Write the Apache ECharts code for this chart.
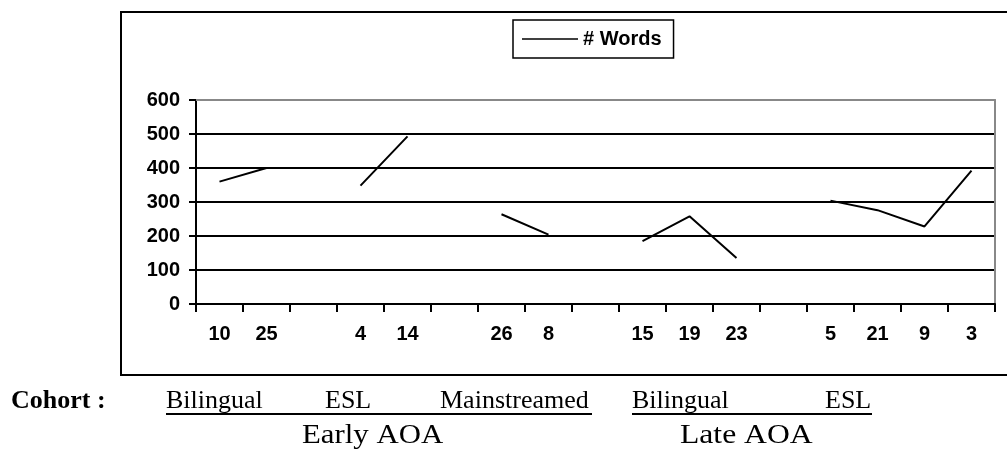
<!DOCTYPE html>
<html>
<head>
<meta charset="utf-8">
<script src="https://cdn.jsdelivr.net/npm/echarts@6/dist/echarts.min.js"></script>
<style>
  html, body { margin: 0; padding: 0; background: #fff; }
  #chart { width: 1007px; height: 449px; }
</style>
</head>
<body>
<div id="chart"></div>
<script>
// subject ids along x (blank slots separate the cohorts)
const categories = ['10', '25', '', '4', '14', '', '26', '8', '', '15', '19', '23', '', '5', '21', '9', '3']
// number of words, null = gap between cohorts
const words = [360, 400, null, 348, 493, null, 264, 204, null, 185, 258, 135, null, 304, 276, 228, 392]
const yTicks = { min: 0, max: 600, interval: 100 }
const seriesName = '# Words'

let myChart = echarts.init(document.getElementById('chart'))

const serif = '"Liberation Serif", "Times New Roman", serif'
const sans = '"Liberation Sans", Arial, sans-serif'

// cohort captions under the chart
const captionText = (text, x, y, size, bold, scaleX) => ({
  type: 'text',
  x: x,
  y: y,
  scaleX: scaleX || 1,
  style: {
    text: text,
    fontFamily: serif,
    fontSize: size,
    fontWeight: bold ? 'bold' : 'normal',
    fill: '#000',
    verticalAlign: 'middle'
  }
})
const underline = (x1, x2, y) => ({
  type: 'line',
  shape: { x1: x1, y1: y, x2: x2, y2: y },
  style: { stroke: '#000', lineWidth: 2 }
})

myChart.setOption({
  animation: false,
  backgroundColor: '#fff',
  grid: { left: 196, right: 12, top: 100, bottom: 145 },
  legend: {
    left: 513,
    top: 20,
    padding: [9, 12, 9, 9],
    borderColor: '#000',
    borderWidth: 1.5,
    itemWidth: 56,
    itemHeight: 16,
    itemGap: 5,
    selectedMode: false,
    itemStyle: { color: '#000', borderWidth: 0 },
    lineStyle: { color: '#000', width: 2 },
    textStyle: { color: '#000', fontSize: 20, fontWeight: 'bold', fontFamily: sans },
    data: [{ name: seriesName, icon: 'path://M0,9 L100,9 L100,12 L0,12 Z' }]
  },
  xAxis: [
    {
      type: 'category',
      data: categories,
      boundaryGap: true,
      axisLine: { onZero: false, lineStyle: { color: '#000', width: 2 } },
      axisTick: { show: true, interval: 0, length: 8, lineStyle: { color: '#000', width: 2 } },
      axisLabel: {
        interval: 0,
        margin: 20,
        color: '#000',
        fontSize: 20,
        fontWeight: 'bold',
        fontFamily: sans
      },
      splitLine: { show: false }
    },
    {
      // gray frame on top of the plot area
      type: 'category',
      position: 'top',
      data: categories,
      axisLine: { onZero: false, lineStyle: { color: '#888', width: 2 } },
      axisTick: { show: false },
      axisLabel: { show: false }
    }
  ],
  yAxis: [
    {
      type: 'value',
      min: yTicks.min,
      max: yTicks.max,
      interval: yTicks.interval,
      axisLine: { show: true, onZero: false, lineStyle: { color: '#000', width: 2 } },
      axisTick: { show: true, length: 7, lineStyle: { color: '#000', width: 2 } },
      axisLabel: {
        margin: 16,
        color: '#000',
        fontSize: 20,
        fontWeight: 'bold',
        fontFamily: sans
      },
      splitLine: { show: true, showMaxLine: false, lineStyle: { color: '#000', width: 2 } }
    },
    {
      // gray frame on the right
      type: 'value',
      position: 'right',
      min: yTicks.min,
      max: yTicks.max,
      interval: yTicks.interval,
      axisLine: { show: true, onZero: false, lineStyle: { color: '#888', width: 2 } },
      axisTick: { show: false },
      axisLabel: { show: false },
      splitLine: { show: false }
    }
  ],
  series: [
    {
      name: seriesName,
      type: 'line',
      data: words,
      connectNulls: false,
      symbol: 'none',
      z: 5,
      lineStyle: { color: '#000', width: 2 },
      itemStyle: { color: '#000' }
    }
  ],
  graphic: [
    {
      type: 'rect',
      shape: { x: 121, y: 12, width: 1000, height: 363 },
      style: { fill: 'none', stroke: '#000', lineWidth: 2 },
      silent: true
    },
    captionText('Cohort :', 11, 401, 26, true),
    captionText('Bilingual', 166, 401, 26),
    captionText('ESL', 325, 401, 26),
    captionText('Mainstreamed', 440, 401, 26),
    captionText('Bilingual', 632, 401, 26),
    captionText('ESL', 825, 401, 26),
    underline(166, 592, 414),
    underline(632, 872, 414),
    captionText('Early AOA', 302, 436, 28, false, 1.1),
    captionText('Late AOA', 680, 436, 28, false, 1.13)
  ]
})
</script>
</body>
</html>
